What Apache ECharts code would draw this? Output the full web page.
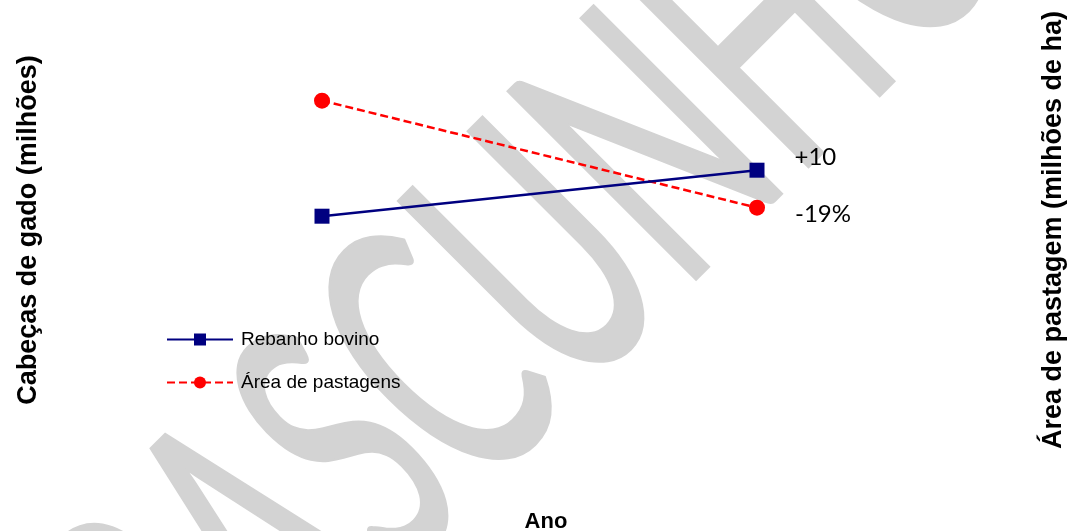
<!DOCTYPE html>
<html>
<head>
<meta charset="utf-8">
<script src="https://cdn.jsdelivr.net/npm/echarts@6/dist/echarts.min.js"></script>
<style>
  html, body { margin: 0; padding: 0; background: #ffffff; }
  #chart { width: 1068px; height: 531px; }
</style>
</head>
<body>
<div id="chart"></div>
<script>
// Years compared (axis labels are not drawn)
const years = ['1985', '2006'];

// Cattle herd, millions of head (left axis)
const rebanhoBovino = [200, 210];

// Pasture area, millions of hectares (right axis)
const areaPastagens = [196, 158.76];

// Hidden axis ranges
const leftRange = [147, 247];
const rightRange = [71, 231];

// Change labels computed from the series themselves
const lastIdx = years.length - 1;
const herdChange = rebanhoBovino[lastIdx] - rebanhoBovino[0];
const herdLabel = (herdChange >= 0 ? '+' : '') + Math.round(herdChange);
const areaPct = (areaPastagens[lastIdx] / areaPastagens[0] - 1) * 100;
const areaLabel = (areaPct >= 0 ? '+' : '') + Math.round(areaPct) + '%';

const NAVY = '#000080';
const RED = '#ff0000';
const titleFont = "'Liberation Sans', Arial, sans-serif";

function withEndLabel(values, text, offset, dist) {
  return values.map((v, i) => i === lastIdx ? {
    value: v,
    label: {
      show: true,
      position: 'right',
      distance: dist,
      offset: offset,
      formatter: text,
      color: '#000000',
      fontFamily: 'Lato, sans-serif',
      fontSize: 24
    }
  } : v);
}

const chart = echarts.init(document.getElementById('chart'), null, { renderer: 'canvas' });

chart.setOption({
  animation: false,
  backgroundColor: '#ffffff',
  graphic: [{
    // "draft" stamp behind the plot
    type: 'text',
    x: 530,
    y: 276,
    rotation: Math.PI / 4,
    scaleX: 0.566,
    scaleY: 1,
    z: -10,
    silent: true,
    style: {
      text: 'RASCUNHO',
      font: "368px Lato, sans-serif",
      fill: '#d3d3d3',
      stroke: '#d3d3d3',
      lineWidth: 5,
      lineJoin: 'round',
      textAlign: 'center',
      textVerticalAlign: 'middle',
      align: 'center',
      verticalAlign: 'middle'
    }
  }],
  grid: {
    left: 104.5,
    right: 93.5,
    top: 0,
    height: 460,
    outerBoundsMode: 'none',
    containLabel: false
  },
  legend: {
    orient: 'vertical',
    left: 161,
    top: 325,
    itemWidth: 66,
    itemHeight: 15,
    itemGap: 24,
    textStyle: {
      fontFamily: titleFont,
      fontSize: 19,
      color: '#000000',
      padding: [0, 0, 0, 3]
    },
    data: ['Rebanho bovino', 'Área de pastagens']
  },
  xAxis: {
    type: 'category',
    data: years,
    boundaryGap: true,
    axisLine: { show: false },
    axisTick: { show: false },
    axisLabel: { show: false },
    splitLine: { show: false },
    name: 'Ano',
    nameLocation: 'middle',
    nameGap: 51,
    nameTextStyle: {
      fontFamily: titleFont,
      fontWeight: 'bold',
      fontSize: 22,
      color: '#000000',
      padding: [0, 0, 0, 13]
    }
  },
  yAxis: [{
    type: 'value',
    position: 'left',
    min: leftRange[0],
    max: leftRange[1],
    axisLine: { show: false },
    axisTick: { show: false },
    axisLabel: { show: false },
    splitLine: { show: false },
    name: 'Cabeças de gado (milhões)',
    nameLocation: 'middle',
    nameGap: 62,
    nameTextStyle: {
      fontFamily: titleFont,
      fontWeight: 'bold',
      fontSize: 27,
      color: '#000000'
    }
  }, {
    type: 'value',
    position: 'right',
    min: rightRange[0],
    max: rightRange[1],
    axisLine: { show: false },
    axisTick: { show: false },
    axisLabel: { show: false },
    splitLine: { show: false },
    name: 'Área de pastagem (milhões de ha)',
    nameLocation: 'middle',
    nameGap: 66,
    nameTextStyle: {
      fontFamily: titleFont,
      fontWeight: 'bold',
      fontSize: 27,
      color: '#000000'
    }
  }],
  series: [{
    name: 'Rebanho bovino',
    type: 'line',
    yAxisIndex: 0,
    data: withEndLabel(rebanhoBovino, herdLabel, [0, -13], 30),
    symbol: 'rect',
    symbolSize: 15,
    lineStyle: { color: NAVY, width: 2.5 },
    itemStyle: { color: NAVY },
    z: 3
  }, {
    name: 'Área de pastagens',
    type: 'line',
    yAxisIndex: 1,
    data: withEndLabel(areaPastagens, areaLabel, [0, 7], 30),
    symbol: 'circle',
    symbolSize: 16,
    lineStyle: { color: RED, width: 2.5, type: [8, 4] },
    itemStyle: { color: RED },
    z: 2
  }]
});
</script>
</body>
</html>
